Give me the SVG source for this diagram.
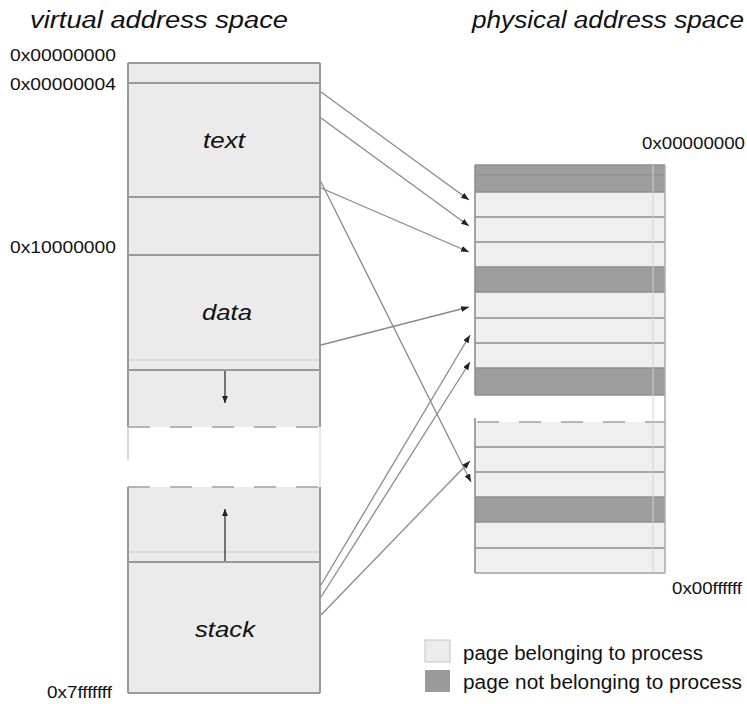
<svg xmlns="http://www.w3.org/2000/svg" width="747" height="704" viewBox="0 0 747 704">
<defs>
<style>
text{font-family:"Liberation Sans",Arial,sans-serif;fill:#111}
.title{font-size:23px;font-style:italic}
.seg{font-size:22px;font-style:italic}
.addr{font-size:16.5px}
.leg{font-size:20px}
.hl{stroke:#999;stroke-width:2;fill:none}
.hlf{stroke:#d6d6d6;stroke-width:1.5;fill:none}
.vl{stroke:#9a9a9a;stroke-width:2;fill:none}
.dash{stroke:#b4b4b4;stroke-width:2;stroke-dasharray:22 20;fill:none}
.lt{fill:#ebebeb}
.pl{fill:#efefef}
.pd{fill:#9e9e9e}
.rl{stroke:#8e8e8e;stroke-width:1.6;fill:none}
.conn{stroke:#8a8a8a;stroke-width:1.3;fill:none;marker-end:url(#ah)}
.grow{stroke:#333;stroke-width:1.3;fill:none;marker-end:url(#ah2)}
</style>
<marker id="ah" markerUnits="userSpaceOnUse" markerWidth="8" markerHeight="6" refX="8" refY="3" orient="auto">
<path d="M0,0 L8,3 L0,6 z" fill="#222"/>
</marker>
<marker id="ah2" markerUnits="userSpaceOnUse" markerWidth="7" markerHeight="8" refX="7" refY="3" orient="auto">
<path d="M0,0 L7,3 L0,6 z" fill="#222"/>
</marker>
</defs>
<rect width="747" height="704" fill="#ffffff"/>

<g id="titles">
<text class="title" x="30" y="28" textLength="258" lengthAdjust="spacingAndGlyphs">virtual address space</text>
<text class="title" x="472" y="28" textLength="272" lengthAdjust="spacingAndGlyphs">physical address space</text>
</g>

<g id="virtual-space">
<rect class="lt" x="128" y="63" width="192" height="307"/>
<rect class="lt" x="128" y="370" width="192" height="57"/>
<rect class="lt" x="128" y="487" width="192" height="75"/>
<rect class="lt" x="128" y="562" width="192" height="131"/>
<line class="hl" x1="128" y1="63" x2="320" y2="63"/>
<line class="hl" x1="128" y1="83" x2="320" y2="83"/>
<line class="hl" x1="128" y1="197" x2="320" y2="197"/>
<line class="hl" x1="128" y1="255" x2="320" y2="255"/>
<line class="hlf" x1="130" y1="360" x2="318" y2="360"/>
<line class="hl" x1="128" y1="370" x2="320" y2="370"/>
<line class="dash" x1="128" y1="427" x2="320" y2="427"/>
<line class="dash" x1="128" y1="487" x2="320" y2="487"/>
<line class="hlf" x1="130" y1="552" x2="318" y2="552"/>
<line class="hl" x1="128" y1="562" x2="320" y2="562"/>
<line class="hl" x1="128" y1="693" x2="320" y2="693"/>
<line class="vl" x1="128" y1="63" x2="128" y2="427"/>
<line class="vl" x1="320" y1="63" x2="320" y2="427"/>
<line class="vl" x1="128" y1="487" x2="128" y2="693"/>
<line class="vl" x1="320" y1="487" x2="320" y2="693"/>
<line x1="128" y1="427" x2="128" y2="460" stroke="#c8c8c8" stroke-width="1.5"/>
<line x1="320" y1="427" x2="320" y2="487" stroke="#e0e0e0" stroke-width="1.5"/>
<line class="grow" x1="225" y1="371" x2="225" y2="403"/>
<line class="grow" x1="225" y1="561" x2="225" y2="509"/>
</g>

<g id="seg-text"><text class="seg" x="203" y="148" textLength="42" lengthAdjust="spacingAndGlyphs">text</text></g>
<g id="seg-data"><text class="seg" x="202" y="320" textLength="50" lengthAdjust="spacingAndGlyphs">data</text></g>
<g id="seg-stack"><text class="seg" x="195" y="637" textLength="60" lengthAdjust="spacingAndGlyphs">stack</text></g>

<g id="virtual-labels">
<text class="addr" x="10" y="61" textLength="106" lengthAdjust="spacingAndGlyphs">0x00000000</text>
<text class="addr" x="10" y="90" textLength="106" lengthAdjust="spacingAndGlyphs">0x00000004</text>
<text class="addr" x="10" y="253" textLength="106" lengthAdjust="spacingAndGlyphs">0x10000000</text>
<text class="addr" x="47" y="698" textLength="65" lengthAdjust="spacingAndGlyphs">0x7fffffff</text>
</g>

<g id="physical-space">
<rect class="pd" x="475" y="165" width="190" height="27"/>
<rect class="pl" x="475" y="192" width="190" height="75"/>
<rect class="pd" x="475" y="267" width="190" height="25"/>
<rect class="pl" x="475" y="292" width="190" height="76"/>
<rect class="pd" x="475" y="368" width="190" height="27"/>
<rect class="pl" x="475" y="422" width="190" height="75"/>
<rect class="pd" x="475" y="497" width="190" height="25"/>
<rect class="pl" x="475" y="522" width="190" height="51"/>
<line x1="475" y1="175" x2="665" y2="175" stroke="#8c8c8c" stroke-width="1"/>
<line class="rl" x1="475" y1="165" x2="665" y2="165"/>
<line class="rl" x1="475" y1="192" x2="665" y2="192"/>
<line class="rl" x1="475" y1="217" x2="665" y2="217"/>
<line class="rl" x1="475" y1="242" x2="665" y2="242"/>
<line class="rl" x1="475" y1="267" x2="665" y2="267"/>
<line class="rl" x1="475" y1="292" x2="665" y2="292"/>
<line class="rl" x1="475" y1="318" x2="665" y2="318"/>
<line class="rl" x1="475" y1="343" x2="665" y2="343"/>
<line class="rl" x1="475" y1="368" x2="665" y2="368"/>
<line class="rl" x1="475" y1="395" x2="665" y2="395"/>
<line class="dash" x1="477" y1="422" x2="665" y2="422"/>
<line class="rl" x1="475" y1="447" x2="665" y2="447"/>
<line class="rl" x1="475" y1="472" x2="665" y2="472"/>
<line class="rl" x1="475" y1="497" x2="665" y2="497"/>
<line class="rl" x1="475" y1="522" x2="665" y2="522"/>
<line class="rl" x1="475" y1="548" x2="665" y2="548"/>
<line x1="475" y1="573" x2="665" y2="573" stroke="#b5b5b5" stroke-width="2"/>
<line x1="653" y1="165" x2="653" y2="573" stroke="#d2d2d2" stroke-width="1"/>
<line class="rl" x1="475" y1="165" x2="475" y2="395"/>
<line class="rl" x1="475" y1="418" x2="475" y2="573"/>
<line x1="665" y1="165" x2="665" y2="573" stroke="#b0b0b0" stroke-width="1.6"/>
</g>

<g id="physical-labels">
<text class="addr" x="642" y="149" textLength="103" lengthAdjust="spacingAndGlyphs">0x00000000</text>
<text class="addr" x="672" y="594" textLength="70" lengthAdjust="spacingAndGlyphs">0x00ffffff</text>
</g>

<g id="legend">
<rect x="425" y="640" width="25" height="22" fill="#ececec" stroke="#c4c4c4" stroke-width="1"/>
<rect x="425" y="670" width="25" height="22" fill="#9a9a9a"/>
<text class="leg" x="463" y="660" textLength="240" lengthAdjust="spacingAndGlyphs">page belonging to process</text>
<text class="leg" x="463" y="689" textLength="279" lengthAdjust="spacingAndGlyphs">page not belonging to process</text>
</g>

<g id="connectors">
<line class="conn" x1="321" y1="92" x2="469" y2="200"/>
<line class="conn" x1="321" y1="118" x2="469" y2="226"/>
<line class="conn" x1="321" y1="188" x2="469" y2="252"/>
<line class="conn" x1="321" y1="182" x2="471" y2="482"/>
<line class="conn" x1="321" y1="345" x2="469" y2="307"/>
<line class="conn" x1="321" y1="585" x2="470" y2="335"/>
<line class="conn" x1="321" y1="597" x2="470" y2="362"/>
<line class="conn" x1="321" y1="615" x2="470" y2="461"/>
</g>
</svg>
